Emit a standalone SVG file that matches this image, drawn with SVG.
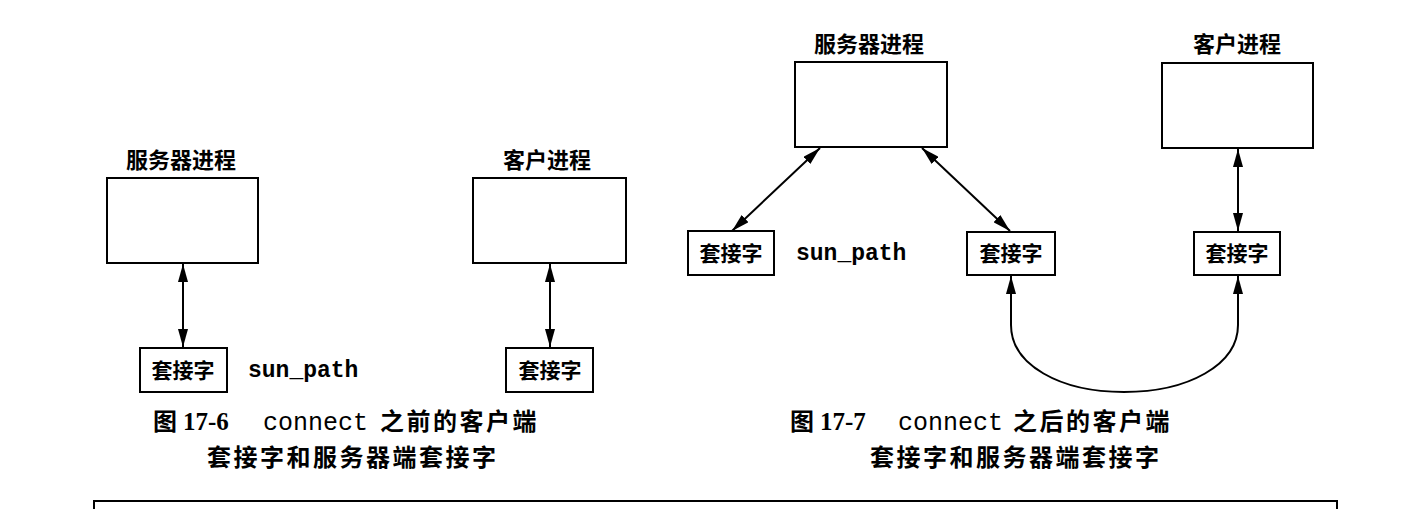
<svg xmlns="http://www.w3.org/2000/svg" width="1418" height="509" viewBox="0 0 1418 509">
<style>
.box{fill:#fff;stroke:#000;stroke-width:2}
.lbl{font-family:"Noto Sans CJK SC",sans-serif;font-weight:700;font-size:22px;fill:#000;text-anchor:middle}
.sock{font-family:"Noto Sans CJK SC",sans-serif;font-weight:700;font-size:21px;fill:#000;text-anchor:middle}
.mono{font-family:"Liberation Mono",monospace;font-weight:700;font-size:23px;fill:#000}
.cap{font-family:"Noto Sans CJK SC",sans-serif;font-weight:700;font-size:24px;fill:#000;letter-spacing:2.5px}
.num{font-family:"Liberation Serif",serif;font-weight:700;font-size:25px;fill:#000}
.code{font-family:"Liberation Mono",monospace;font-size:25px;fill:#000}
.ln{fill:none;stroke:#000;stroke-width:2}
</style>
<defs>
<marker id="ah" viewBox="0 0 18 10" refX="18" refY="5" markerWidth="18" markerHeight="10" markerUnits="userSpaceOnUse" orient="auto-start-reverse">
<path d="M0,0 L18,5 L0,10 z" fill="#000"/>
</marker>
</defs>
<g id="connectors">
<line class="ln" x1="183" y1="264" x2="183" y2="347" marker-start="url(#ah)" marker-end="url(#ah)"/>
<line class="ln" x1="550" y1="264" x2="550" y2="347" marker-start="url(#ah)" marker-end="url(#ah)"/>
<line class="ln" x1="820" y1="148" x2="732" y2="231" marker-start="url(#ah)" marker-end="url(#ah)"/>
<line class="ln" x1="922" y1="148" x2="1010" y2="231" marker-start="url(#ah)" marker-end="url(#ah)"/>
<line class="ln" x1="1238" y1="149" x2="1238" y2="231" marker-start="url(#ah)" marker-end="url(#ah)"/>
<path class="ln" d="M1011,276 L1011,325 C1011,365 1060,392 1124,392 C1188,392 1238,365 1238,325 L1238,276" marker-start="url(#ah)" marker-end="url(#ah)"/>
</g>
<g id="server1">
<text class="lbl" x="181" y="168">服务器进程</text>
<rect class="box" x="107" y="178" width="151" height="85"/>
</g>
<g id="socket1">
<rect class="box" x="140" y="348" width="87" height="44"/>
<text class="sock" x="183" y="378">套接字</text>
</g>
<text class="mono" x="248" y="377">sun_path</text>
<g id="client1">
<text class="lbl" x="547" y="168">客户进程</text>
<rect class="box" x="473" y="178" width="153" height="85"/>
</g>
<g id="socket2">
<rect class="box" x="506" y="348" width="87" height="44"/>
<text class="sock" x="550" y="378">套接字</text>
</g>
<g id="server2">
<text class="lbl" x="869" y="52">服务器进程</text>
<rect class="box" x="795" y="62" width="152" height="85"/>
</g>
<g id="socket3">
<rect class="box" x="688" y="231" width="86" height="44"/>
<text class="sock" x="731" y="261">套接字</text>
</g>
<text class="mono" x="796" y="260">sun_path</text>
<g id="socket4">
<rect class="box" x="967" y="232" width="88" height="43"/>
<text class="sock" x="1011" y="261">套接字</text>
</g>
<g id="client2">
<text class="lbl" x="1237" y="52">客户进程</text>
<rect class="box" x="1162" y="63" width="151" height="85"/>
</g>
<g id="socket5">
<rect class="box" x="1194" y="232" width="86" height="43"/>
<text class="sock" x="1237" y="261">套接字</text>
</g>
<g id="caption1">
<text class="cap" x="153" y="430">图</text>
<text class="num" x="183" y="430">17-6</text>
<text class="code" x="263" y="430">connect</text>
<text class="cap" x="380" y="430">之前的客户端</text>
<text class="cap" x="207" y="466">套接字和服务器端套接字</text>
</g>
<g id="caption2">
<text class="cap" x="790" y="430">图</text>
<text class="num" x="820" y="430">17-7</text>
<text class="code" x="898" y="430">connect</text>
<text class="cap" x="1013" y="430">之后的客户端</text>
<text class="cap" x="870" y="466">套接字和服务器端套接字</text>
</g>
<rect class="box" x="94" y="501" width="1243" height="20"/>
</svg>
